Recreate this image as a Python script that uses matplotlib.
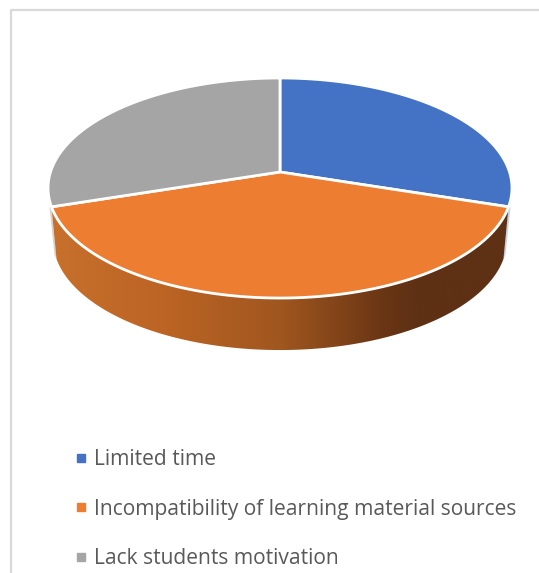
import numpy as np
import matplotlib
matplotlib.use("Agg")
import matplotlib.pyplot as plt
from matplotlib.lines import Line2D
from matplotlib.patches import Polygon
from matplotlib.colors import LinearSegmentedColormap

labels = ["Limited time", "Incompatibility of learning material sources", "Lack students motivation"]
shares = [30, 40, 30]
colors = ["#4472C4", "#ED7D31", "#A5A5A5"]

# 3d look: circle seen through a simple perspective
cx, cy = 280, 172
rx, ry = 229.5, 107.7
k = 0.1455
depth = 52
shrink = 0.978


def project(theta):
    u = np.sin(theta)
    v = np.cos(theta)
    x = cx + rx * u / (1 + k * v)
    y = cy - ry * v / (1 + k * v)
    return x, y


def lower_rim(x, y):
    return cx + (x - cx) * shrink, y + depth


plt.rcParams["font.family"] = ["Open Sans", "DejaVu Sans"]
fig = plt.figure(figsize=(5.39, 5.73), dpi=100)
ax = fig.add_axes([0, 0, 1, 1])
ax.set_xlim(0, 539)
ax.set_ylim(573, 0)
ax.axis("off")

# chart frame, only left and top are visible
ax.plot([11, 11, 539], [573, 10, 10], color="#d9d9d9", lw=1.6, zorder=1)

edges = np.cumsum([0] + shares) / sum(shares) * 2 * np.pi

# side of the orange slice with shading from left to right
t = np.linspace(edges[1], edges[2], 200)
x, y = project(t)
xl, yl = lower_rim(x, y)
side = Polygon(np.r_[np.c_[x, y], np.c_[xl, yl][::-1]], closed=True, fc="none", ec="none")
ax.add_patch(side)
shade = LinearSegmentedColormap.from_list(
    "side",
    [(0, "#c8702c"), (0.25, "#bb6424"), (0.5, "#a0561f"), (0.72, "#6a3614"), (0.8, "#5e3014"), (1, "#5e3014")],
)
img = ax.imshow(np.linspace(0, 1, 256)[None, :], cmap=shade, extent=(50, 512, 360, 200), aspect="auto", zorder=2)
img.set_clip_path(side)
ax.set_xlim(0, 539)
ax.set_ylim(573, 0)

# thin bits of the back slices sides that peek out at both ends
for i, tone in [(0, "#c9d2e2"), (2, "#d4d4d4")]:
    end = edges[1] if i == 0 else edges[2]
    x0, y0 = project(end)
    x1, y1 = lower_rim(x0, y0)
    sign = 1 if i == 0 else -1
    ax.add_patch(Polygon([(x0, y0), (x0 + sign * 2, y0), (x1 + sign * 2, y1 - 4), (x1, y1)],
                         closed=True, fc=tone, ec="none", zorder=1.5))

# top face
for i in range(len(shares)):
    t = np.linspace(edges[i], edges[i + 1], 200)
    x, y = project(t)
    pts = np.r_[[[cx, cy]], np.c_[x, y]]
    ax.add_patch(Polygon(pts, closed=True, fc=colors[i], ec="white", lw=2, joinstyle="round", zorder=3))

handles = [Line2D([], [], ls="none", marker="s", ms=5.2, color=c) for c in colors]
ax.legend(handles, labels, loc="upper left", bbox_to_anchor=(75, 449), bbox_transform=ax.transData,
          frameon=False, fontsize=15.15, labelcolor="#595959", labelspacing=1.36,
          handlelength=0.6, handletextpad=0.31, borderpad=0, borderaxespad=0)

plt.savefig("out.png", dpi=100)
plt.close()
